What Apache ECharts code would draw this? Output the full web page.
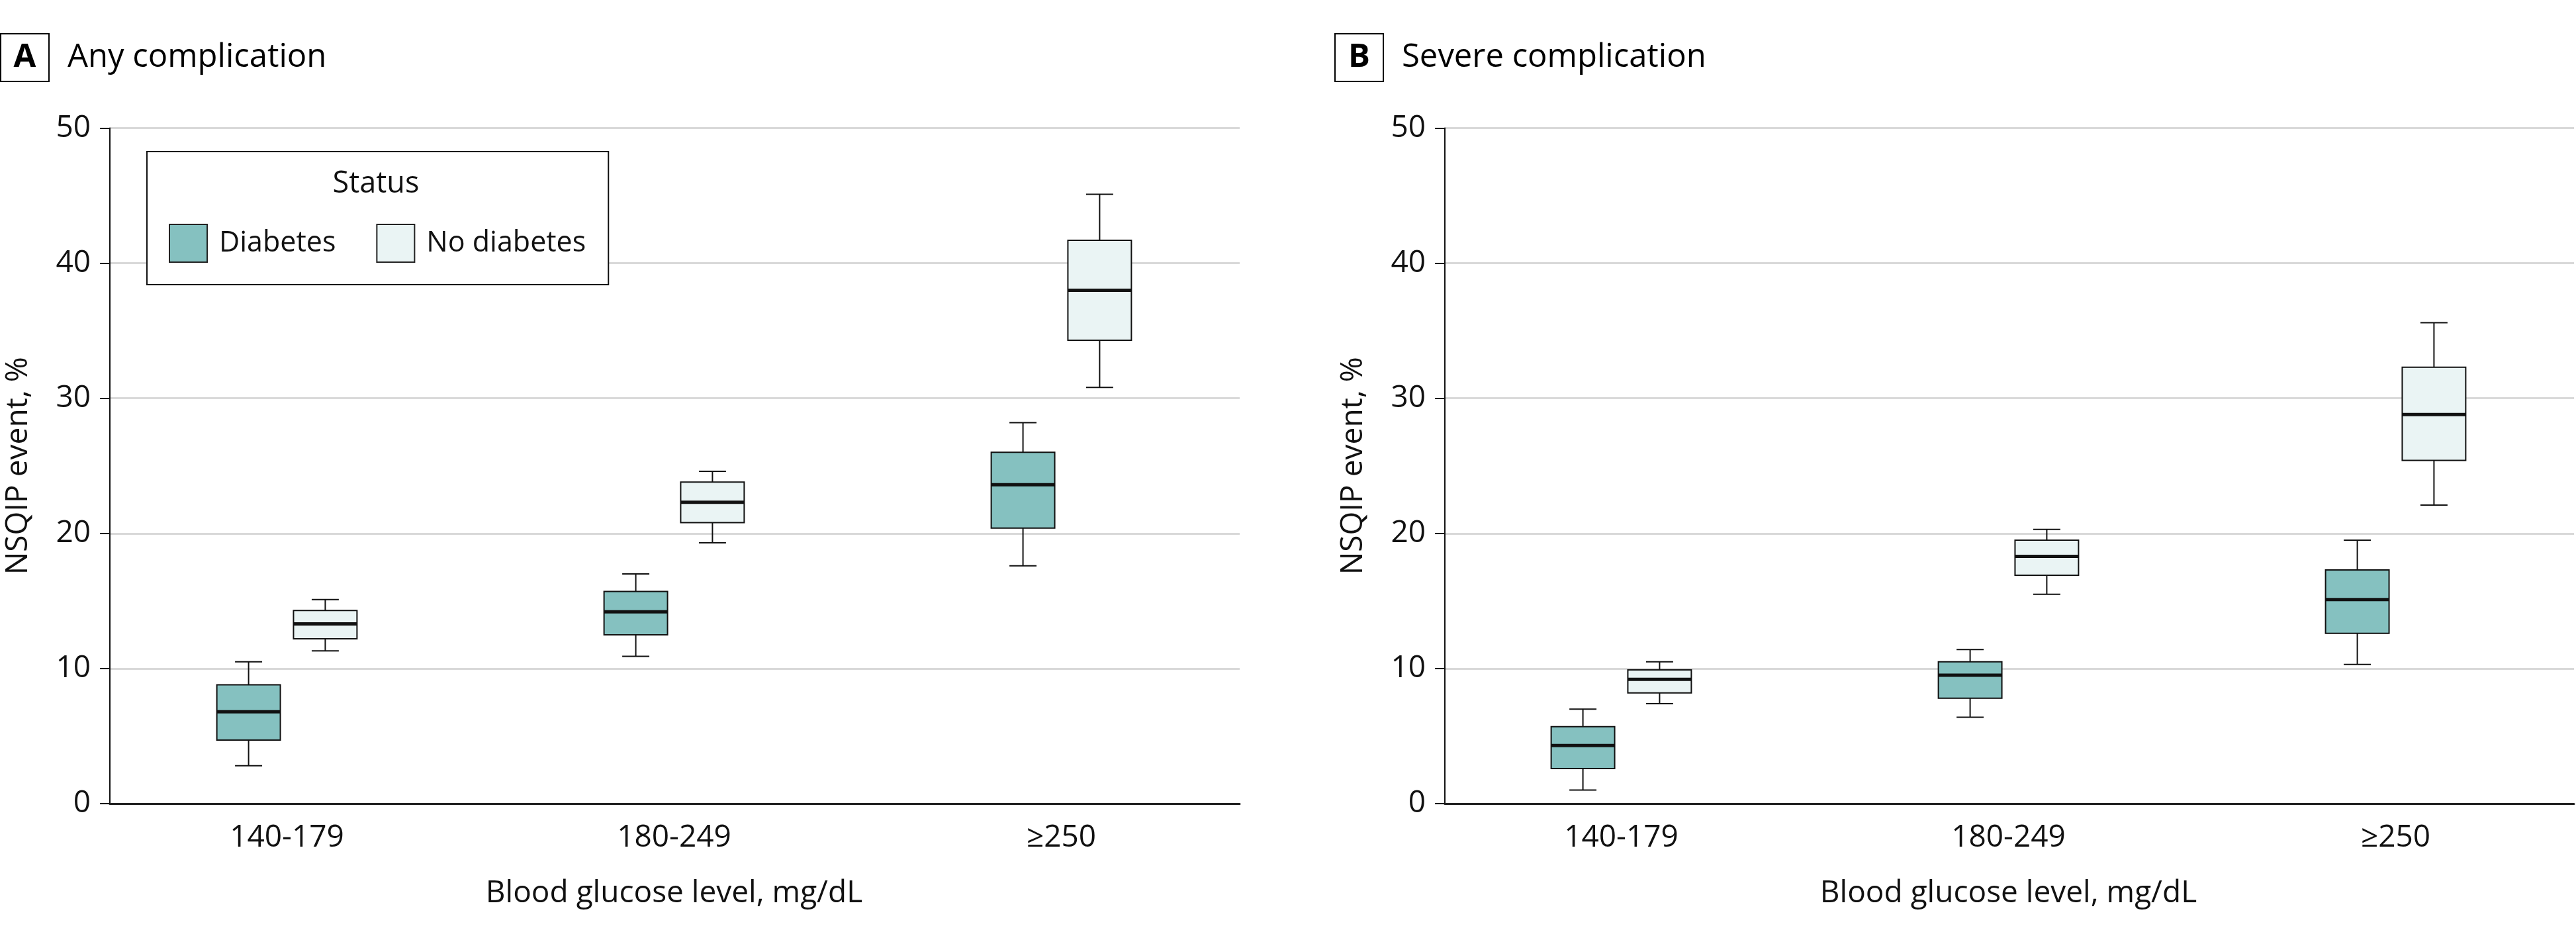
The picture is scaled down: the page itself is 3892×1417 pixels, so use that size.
<!DOCTYPE html>
<html>
<head>
<meta charset="utf-8">
<script src="https://cdn.jsdelivr.net/npm/echarts@6/dist/echarts.min.js"></script>
<style>
  html, body { margin: 0; padding: 0; background: #fff; }
  #chart { width: 3892px; height: 1417px; }
</style>
</head>
<body>
<div id="chart"></div>
<script>
// categories on x
const categories = ['140-179', '180-249', '≥250'];
const yTicks = [0, 10, 20, 30, 40, 50];

// each row: [min, Q1, median, Q3, max] in %
const anyDiabetes = [
  [2.8, 4.7, 6.8, 8.8, 10.5],
  [10.9, 12.5, 14.2, 15.7, 17.0],
  [17.6, 20.4, 23.6, 26.0, 28.2]
];
const anyNoDiabetes = [
  [11.3, 12.2, 13.3, 14.3, 15.1],
  [19.3, 20.8, 22.3, 23.8, 24.6],
  [30.8, 34.3, 38.0, 41.7, 45.1]
];
const severeDiabetes = [
  [1.0, 2.6, 4.3, 5.7, 7.0],
  [6.4, 7.8, 9.5, 10.5, 11.4],
  [10.3, 12.6, 15.1, 17.3, 19.5]
];
const severeNoDiabetes = [
  [7.4, 8.2, 9.2, 9.9, 10.5],
  [15.5, 16.9, 18.3, 19.5, 20.3],
  [22.1, 25.4, 28.8, 32.3, 35.6]
];

const FONT = 'Open Sans';
const TEAL = '#85c1c0';
const PALE = '#eaf4f4';
const INK = '#111';

const BOX_FRAC = 0.164;   // box width / band width
const CAP_FRAC = 0.07;    // whisker cap width / band width
const SHIFT_FRAC = 0.099; // box centre offset / band width

const toRows = (arr) => arr.map((r, i) => [i].concat(r));

// draws one box + whiskers through the axes of the grid
const boxRenderer = (shift, fill) => (params, api) => {
  const band = api.size([1, 0])[0];
  const cx = api.coord([api.value(0), 0])[0] + shift * band;
  const py = (d) => api.coord([api.value(0), api.value(d)])[1];
  const yMin = py(1), yQ1 = py(2), yMed = py(3), yQ3 = py(4), yMax = py(5);
  const bw = band * BOX_FRAC, cw = band * CAP_FRAC;
  const line = (x1, y1, x2, y2, w) => ({
    type: 'line',
    shape: { x1: x1, y1: y1, x2: x2, y2: y2 },
    style: { stroke: INK, lineWidth: w || 2 }
  });
  return {
    type: 'group',
    children: [
      line(cx, yMin, cx, yQ1),
      line(cx, yQ3, cx, yMax),
      line(cx - cw / 2, yMin, cx + cw / 2, yMin),
      line(cx - cw / 2, yMax, cx + cw / 2, yMax),
      {
        type: 'rect',
        shape: { x: cx - bw / 2, y: yQ3, width: bw, height: yQ1 - yQ3 },
        style: { fill: fill, stroke: INK, lineWidth: 2 }
      },
      line(cx - bw / 2, yMed, cx + bw / 2, yMed, 5)
    ]
  };
};

const boxSeries = (name, rows, shift, fill, axisIdx) => ({
  name: name,
  type: 'custom',
  xAxisIndex: axisIdx,
  yAxisIndex: axisIdx,
  itemStyle: { color: fill, borderColor: INK, borderWidth: 2 },
  encode: { x: 0, y: [1, 2, 3, 4, 5] },
  renderItem: boxRenderer(shift, fill),
  data: toRows(rows)
});

// panel layout: frame grid holds the visible axes, label grid holds the boxes
const TOP = 193.5, HEIGHT = 1020.5;
const panels = [
  { frameLeft: 166, frameWidth: 1707, boxLeft: 141 },
  { frameLeft: 2183, frameWidth: 1706, boxLeft: 2157 }
];

const grids = [], xAxes = [], yAxes = [];
panels.forEach((p) => {
  grids.push({ left: p.frameLeft, top: TOP, width: p.frameWidth, height: HEIGHT, outerBoundsMode: 'none' });
  grids.push({ left: p.boxLeft, top: TOP, width: 1755, height: HEIGHT, outerBoundsMode: 'none' });
});
grids.forEach((g, i) => {
  const frame = i % 2 === 0;
  if (frame) {
    xAxes.push({
      gridIndex: i, type: 'category', data: categories,
      axisLine: { lineStyle: { color: '#222', width: 3 } },
      axisTick: { show: false }, axisLabel: { show: false }, splitLine: { show: false }
    });
    yAxes.push({
      gridIndex: i, type: 'value', min: yTicks[0], max: yTicks[yTicks.length - 1], interval: 10,
      name: 'NSQIP event, %', nameLocation: 'middle', nameGap: 115,
      nameTextStyle: { fontFamily: FONT, fontSize: 46, color: INK },
      axisLine: { show: true, lineStyle: { color: INK, width: 2 } },
      axisTick: { show: true, length: 15, lineStyle: { color: INK, width: 2 } },
      axisLabel: { fontFamily: FONT, fontSize: 46, color: INK, margin: 29 },
      splitLine: { show: true, lineStyle: { color: '#d9d9d9', width: 3 } }
    });
  } else {
    xAxes.push({
      gridIndex: i, type: 'category', data: categories,
      axisLine: { show: false }, axisTick: { show: false },
      axisLabel: { fontFamily: FONT, fontSize: 46, color: INK, margin: 29 },
      name: 'Blood glucose level, mg/dL', nameLocation: 'middle', nameGap: 113,
      nameTextStyle: { fontFamily: FONT, fontSize: 46, color: INK }
    });
    yAxes.push({ gridIndex: i, type: 'value', min: 0, max: 50, show: false });
  }
});

// panel letter boxes and titles
const panelTitle = (x, letter, text) => [
  { type: 'rect', shape: { x: x, y: 51, width: 73, height: 72 }, style: { fill: '#fff', stroke: '#000', lineWidth: 2 } },
  { type: 'text', x: x + 36.5, y: 87, style: { text: letter, font: 'bold 49px "' + FONT + '"', fill: '#000', align: 'center', verticalAlign: 'middle' } },
  { type: 'text', x: x + 101, y: 87, style: { text: text, font: '49px "' + FONT + '"', fill: '#000', align: 'left', verticalAlign: 'middle' } }
];

const chart = echarts.init(document.getElementById('chart'), null, { renderer: 'canvas' });
chart.setOption({
  animation: false,
  backgroundColor: '#fff',
  grid: grids,
  xAxis: xAxes,
  yAxis: yAxes,
  legend: {
    left: 222, top: 229,
    padding: [109, 34, 33, 33],
    borderColor: INK, borderWidth: 2,
    backgroundColor: '#fff',
    icon: 'rect', itemWidth: 57, itemHeight: 57, itemGap: 61,
    selectedMode: false,
    textStyle: { fontFamily: FONT, fontSize: 43, color: INK, padding: [0, 0, 0, 13] },
    data: [
      { name: 'Diabetes', itemStyle: { color: TEAL, borderColor: '#222', borderWidth: 2 } },
      { name: 'No diabetes', itemStyle: { color: PALE, borderColor: '#222', borderWidth: 2 } }
    ]
  },
  graphic: [].concat(
    panelTitle(1, 'A', 'Any complication'),
    panelTitle(2017, 'B', 'Severe complication'),
    [{ type: 'text', x: 568, y: 278, z: 10, style: { text: 'Status', font: '45px "' + FONT + '"', fill: INK, align: 'center', verticalAlign: 'middle' } }]
  ),
  series: [
    boxSeries('Diabetes', anyDiabetes, -SHIFT_FRAC, TEAL, 1),
    boxSeries('No diabetes', anyNoDiabetes, SHIFT_FRAC, PALE, 1),
    boxSeries('Diabetes', severeDiabetes, -SHIFT_FRAC, TEAL, 3),
    boxSeries('No diabetes', severeNoDiabetes, SHIFT_FRAC, PALE, 3)
  ]
});
</script>
</body>
</html>
